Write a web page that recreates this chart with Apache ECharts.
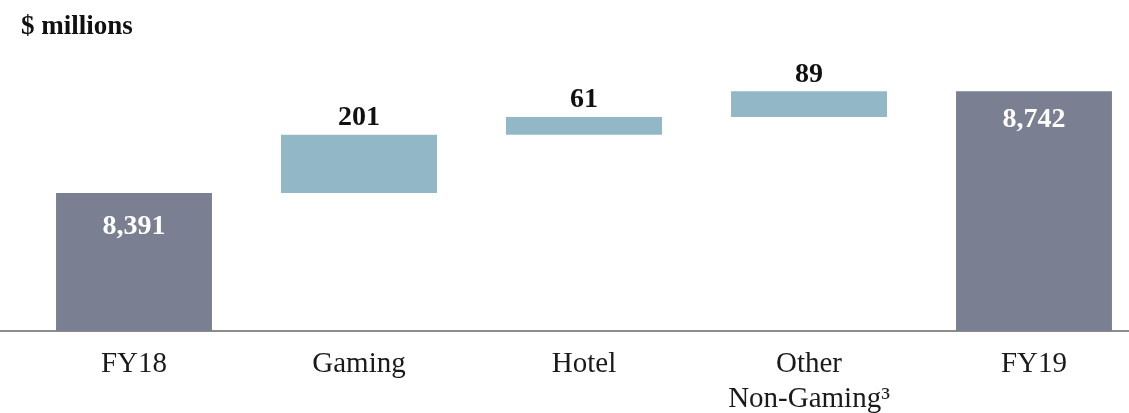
<!DOCTYPE html>
<html><head><meta charset="utf-8">
<script src="https://cdn.jsdelivr.net/npm/echarts@6/dist/echarts.min.js"></script>
<style>html,body{margin:0;padding:0;background:#fff}#c{width:1129px;height:413px}</style>
</head><body><div id="c"></div>
<script>
const categories = ['FY18', 'Gaming', 'Hotel', 'Other\nNon-Gaming³', 'FY19'];
const values = [8391, 201, 61, 89, 8742];
const isTotal = [true, false, false, false, true];
const unitLabel = '$ millions';

const bases = [];
let run = 0;
values.forEach((v, i) => {
  if (isTotal[i]) { bases.push(0); run = v; }
  else { bases.push(run); run += v; }
});

const FONT = '"Liberation Serif", "DejaVu Serif", serif';
const DARK = '#7a7f91', LIGHT = '#92b7c6';
const visData = values.map((v, i) => isTotal[i] ? {
  value: v,
  itemStyle: { color: DARK },
  label: { position: 'insideTop', distance: i === 0 ? 20 : 14, color: '#fff' }
} : {
  value: v,
  itemStyle: { color: LIGHT },
  label: { position: 'top', distance: 3, color: '#111' }
});

const chart = echarts.init(document.getElementById('c'), null, { renderer: 'canvas' });
chart.setOption({
  animation: false,
  title: { text: unitLabel, left: 16, top: 9, textStyle: { fontFamily: FONT, fontSize: 27, fontWeight: 'bold', color: '#111' } },
  grid: [
    { left: 21.5, width: 1125, top: 31, bottom: 82, outerBoundsMode: 'none', containLabel: false },
    { left: 0, width: 1129, top: 31, bottom: 82, outerBoundsMode: 'none', containLabel: false }
  ],
  xAxis: [
    { type: 'category', gridIndex: 0, data: categories,
      axisLine: { show: false }, axisTick: { show: false },
      axisLabel: { interval: 0, margin: 16, fontFamily: FONT, fontSize: 29, color: '#1a1a1a', lineHeight: 35 } },
    { type: 'value', gridIndex: 1, min: 0, max: 1, show: true,
      axisLine: { show: true, lineStyle: { color: '#8c8c8c', width: 2 } },
      axisTick: { show: false }, axisLabel: { show: false }, splitLine: { show: false } }
  ],
  yAxis: [
    { type: 'value', gridIndex: 0, min: 7915, max: 8950, show: false, splitLine: { show: false } },
    { type: 'value', gridIndex: 1, min: 0, max: 1, show: false, splitLine: { show: false } }
  ],
  series: [
    { type: 'bar', stack: 'w', data: bases, barWidth: '69.3%', silent: true,
      itemStyle: { color: 'transparent' }, z: 3 },
    { type: 'bar', stack: 'w', data: visData, barWidth: '69.3%', z: 3,
      label: { show: true, fontFamily: FONT, fontSize: 28, fontWeight: 'bold',
        formatter: p => p.value.toLocaleString('en-US') } }
  ]
});
</script></body></html>
